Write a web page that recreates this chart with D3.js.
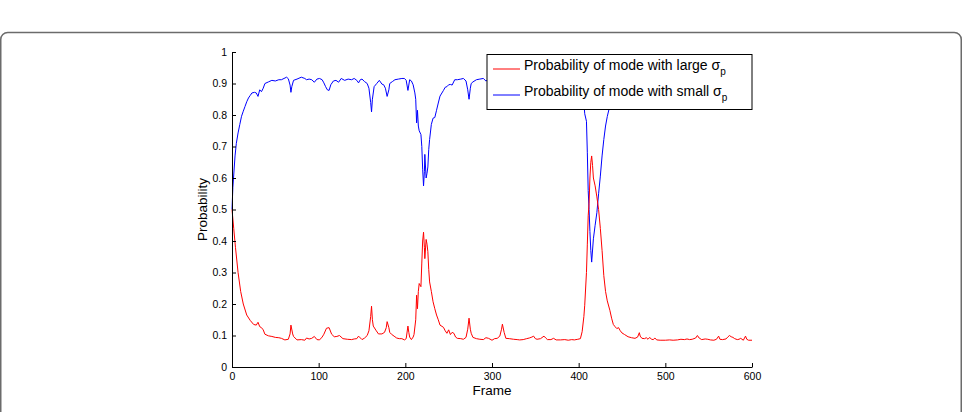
<!DOCTYPE html>
<html>
<head>
<meta charset="utf-8">
<script src="https://cdn.jsdelivr.net/npm/d3@7"></script>
<style>
    body { margin: 0; background: #fff; }
    svg { display: block; font-family: "Liberation Sans", Arial, sans-serif; }
</style>
</head>
<body>
<div id="chart"></div>
<script>
// Probability of the large-sigma mode (frame, value)
const redFrames = [0,2,4,7,10,13,17,21,25,28,30,32,34,36,38,42,46,50,54,57,61,65,67,68,70,71,75,80,84,86,89,92,95,98,101,104,106,109,112,115,118,121,124,128,133,138,141,144,146,150,153,156,158,160,161,162,163,166,169,173,176,178,179,181,182,184,187,190,193,196,199,201,203,204,205,207,209,210,212,213,214,215,216,218,219,220,221,222,222.5,224,225,226,227,228,230,232,234,236,238,240,244,246,248,250,252,254,256,258,260,264,267,270,272,273.5,275,276,278,282,286,290,293,296,300,303,306,309,311,312,314,316,320,325,329,332,336,340,343,346,348,350,352,356,360,362,364,368,371,374,379,384,388,392,395,399,402,404,406,407,409,410,411,412,413,414,415,416,417,419,421,423,425,427,429,431,433,436,438,440,442,444,446,448,450,453,457,461,465,468,470,471,473,476,478,480,482,484,486,488,490,494,500,505,509,514,518,522,525,528,531,535,537,539,542,546,549,552,556,559,561.5,563,566,570,572,574,576,578,580,583,585,587,590,592.5,594,596,600];
const redValues = [0.50,0.44,0.38,0.30,0.24,0.20,0.165,0.148,0.135,0.133,0.142,0.128,0.125,0.118,0.104,0.099,0.097,0.094,0.093,0.091,0.086,0.088,0.105,0.133,0.105,0.097,0.086,0.087,0.085,0.092,0.089,0.091,0.097,0.087,0.086,0.095,0.104,0.123,0.125,0.104,0.096,0.097,0.100,0.090,0.088,0.087,0.089,0.090,0.098,0.087,0.092,0.100,0.115,0.160,0.193,0.150,0.130,0.117,0.105,0.105,0.110,0.125,0.144,0.125,0.110,0.104,0.098,0.092,0.090,0.090,0.086,0.090,0.130,0.110,0.095,0.087,0.095,0.103,0.150,0.228,0.185,0.240,0.265,0.255,0.330,0.400,0.428,0.380,0.344,0.405,0.390,0.366,0.310,0.270,0.240,0.207,0.185,0.165,0.150,0.133,0.126,0.115,0.107,0.118,0.103,0.110,0.107,0.095,0.091,0.090,0.088,0.094,0.120,0.155,0.120,0.107,0.094,0.090,0.088,0.087,0.093,0.091,0.085,0.090,0.091,0.098,0.120,0.136,0.110,0.091,0.090,0.088,0.087,0.086,0.087,0.090,0.092,0.095,0.098,0.090,0.088,0.090,0.098,0.092,0.087,0.087,0.091,0.086,0.086,0.087,0.085,0.087,0.086,0.088,0.090,0.112,0.160,0.196,0.300,0.390,0.480,0.520,0.600,0.650,0.670,0.640,0.600,0.575,0.540,0.500,0.440,0.370,0.290,0.240,0.210,0.180,0.155,0.135,0.128,0.122,0.125,0.115,0.108,0.103,0.096,0.093,0.091,0.095,0.109,0.098,0.091,0.090,0.093,0.088,0.094,0.088,0.087,0.092,0.086,0.085,0.085,0.086,0.085,0.086,0.088,0.087,0.089,0.087,0.088,0.092,0.100,0.092,0.087,0.089,0.088,0.086,0.085,0.088,0.098,0.088,0.087,0.089,0.095,0.100,0.096,0.094,0.090,0.087,0.088,0.091,0.085,0.098,0.088,0.085,0.085];

// Probability of the small-sigma mode (frame, value)
const blueFrames = [0,1,3.5,5,7,9,11,13,15,17,19,21,23,26,28,30,32,34,36,38,42,46,50,54,57,60,63,65,67,68,69,71,75,80,84,86,89,92,95,98,101,104,106,108,110,112,114,117,120,123,126,130,134,138,141,144,146,148,150,153,156,158,160,161,162,164,167,170,173,175,177,179,181,182,185,188,192,196,199,201,203,204,205,207,209,211,212,213,214,215,216,218,219,220,221,222,222.5,224,225,226,227,228,230,232,234,236,238,240,244,246,248,250,252,254,257,260,264,267,270,272,273.5,275,276,278,282,286,290,293,296,300,304,309,312,314,316,320,330,340,346,350,360,364,375,385,395,402,404,406,407,409,410,411,412,413,414,415,417,419,421,423,425,427,429,431,433,436,438,440,444,450,457,465,470,473,480,490,500,520,537,540,560,562,570,574,580,592,600];
const blueValues = [0.50,0.57,0.67,0.71,0.743,0.77,0.796,0.812,0.827,0.842,0.854,0.862,0.870,0.872,0.870,0.859,0.880,0.874,0.885,0.900,0.905,0.910,0.908,0.912,0.912,0.916,0.920,0.915,0.895,0.872,0.890,0.910,0.914,0.920,0.916,0.912,0.914,0.912,0.904,0.914,0.916,0.912,0.902,0.890,0.880,0.878,0.896,0.908,0.910,0.904,0.916,0.910,0.914,0.912,0.916,0.910,0.902,0.912,0.914,0.906,0.900,0.885,0.840,0.810,0.850,0.890,0.900,0.910,0.898,0.896,0.885,0.859,0.880,0.900,0.906,0.912,0.914,0.916,0.916,0.910,0.878,0.895,0.912,0.908,0.896,0.870,0.850,0.775,0.815,0.765,0.750,0.738,0.700,0.628,0.575,0.620,0.675,0.600,0.615,0.635,0.690,0.722,0.770,0.790,0.792,0.815,0.838,0.860,0.878,0.888,0.890,0.896,0.897,0.895,0.912,0.912,0.914,0.916,0.908,0.880,0.850,0.885,0.900,0.905,0.912,0.914,0.916,0.908,0.912,0.915,0.912,0.902,0.864,0.890,0.909,0.910,0.913,0.910,0.905,0.910,0.902,0.913,0.914,0.913,0.914,0.910,0.888,0.840,0.804,0.780,0.680,0.560,0.500,0.430,0.370,0.333,0.407,0.450,0.490,0.550,0.606,0.670,0.722,0.765,0.795,0.830,0.850,0.865,0.878,0.892,0.904,0.909,0.891,0.909,0.912,0.914,0.915,0.913,0.900,0.908,0.912,0.902,0.911,0.900,0.910,0.902,0.915];

const xTicks = [0, 100, 200, 300, 400, 500, 600];
const yTicks = [0, 0.1, 0.2, 0.3, 0.4, 0.5, 0.6, 0.7, 0.8, 0.9, 1];
const legendLabels = ["Probability of mode with large σ", "Probability of mode with small σ"];
const legendColors = ["#ff0000", "#0000ff"];

const width = 966, height = 412;

const svg = d3.select("#chart").append("svg")
    .attr("width", width)
    .attr("height", height);

// outer rounded frame, its bottom runs off the picture
svg.append("rect")
    .attr("x", 0.75).attr("y", 32.5)
    .attr("width", 960.5).attr("height", 420)
    .attr("rx", 7).attr("ry", 7)
    .attr("fill", "none")
    .attr("stroke", "#6b6b6b")
    .attr("stroke-width", 1.5);

const x = d3.scaleLinear().domain([0, 600]).range([232, 752]);
const y = d3.scaleLinear().domain([0, 1]).range([367, 52]);

const red = redFrames.map((f, i) => [f, redValues[i]]);
const blue = blueFrames.map((f, i) => [f, blueValues[i]]);

const line = d3.line()
    .x(d => x(d[0]))
    .y(d => y(d[1]));

svg.append("path").datum(blue)
    .attr("d", line)
    .attr("fill", "none")
    .attr("stroke", legendColors[1])
    .attr("stroke-width", 1);

svg.append("path").datum(red)
    .attr("d", line)
    .attr("fill", "none")
    .attr("stroke", legendColors[0])
    .attr("stroke-width", 1);

// axes with inward ticks, matlab style
const xAxis = svg.append("g")
    .attr("transform", "translate(0," + y(0) + ")")
    .call(d3.axisBottom(x).tickValues(xTicks).tickFormat(d3.format("d"))
        .tickSizeInner(-4).tickSizeOuter(0).tickPadding(6));

const yAxis = svg.append("g")
    .attr("transform", "translate(" + x(0) + ",0)")
    .call(d3.axisLeft(y).tickValues(yTicks).tickFormat(d => d === 0 || d === 1 ? d : d3.format(".1f")(d))
        .tickSizeInner(-4).tickSizeOuter(0).tickPadding(5));

[xAxis, yAxis].forEach(g => {
    g.select(".domain").attr("stroke", "#000").attr("stroke-width", 1);
    g.selectAll(".tick line").attr("stroke", "#000");
    g.selectAll(".tick text")
        .attr("fill", "#000")
        .style("font-family", "'Liberation Sans', Arial, sans-serif")
        .style("font-size", "10.5px");
});

svg.append("text")
    .attr("x", x(300)).attr("y", 395)
    .attr("text-anchor", "middle")
    .style("font-size", "13.5px")
    .text("Frame");

svg.append("text")
    .attr("transform", "translate(207," + y(0.5) + ") rotate(-90)")
    .attr("text-anchor", "middle")
    .style("font-size", "13.5px")
    .text("Probability");

// legend
const legend = svg.append("g");
legend.append("rect")
    .attr("x", 487).attr("y", 54.5)
    .attr("width", 265).attr("height", 55)
    .attr("fill", "#fff")
    .attr("stroke", "#000")
    .attr("stroke-width", 1);

legendLabels.forEach((label, i) => {
    const ly = 69 + i * 26;
    legend.append("line")
        .attr("x1", 493).attr("x2", 520)
        .attr("y1", ly).attr("y2", ly)
        .attr("stroke", legendColors[i])
        .attr("stroke-width", 1);
    const t = legend.append("text")
        .attr("x", 524).attr("y", ly + 1)
        .style("font-size", "14px");
    t.append("tspan").text(label);
    t.append("tspan")
        .attr("dy", 5)
        .style("font-size", "10px")
        .text("p");
});
</script>
</body>
</html>
